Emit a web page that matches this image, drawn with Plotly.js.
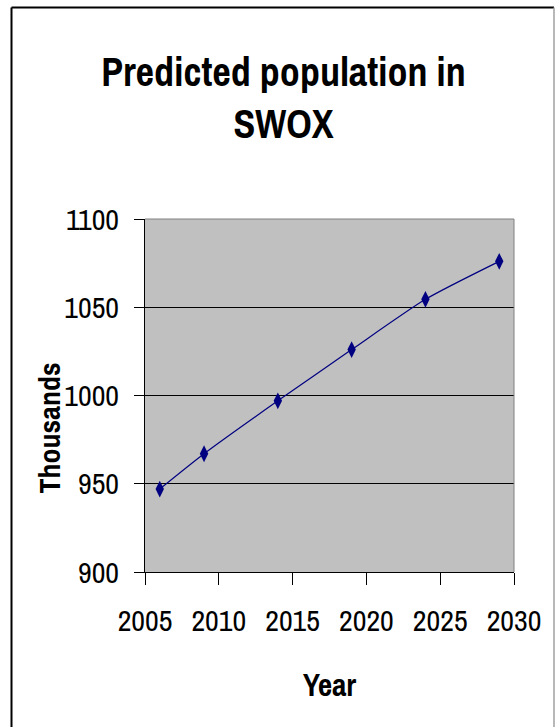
<!DOCTYPE html>
<html>
<head>
<meta charset="utf-8">
<script src="https://cdn.plot.ly/plotly-3.0.1.min.js"></script>
<style>
  html, body { margin: 0; padding: 0; background: #ffffff; overflow: hidden; }
  #chart { width: 555px; height: 727px; }
</style>
</head>
<body>
<div id="chart"></div>
<script>
// Data
var years = [2006, 2009, 2014, 2019, 2024, 2029];
var population = [947, 967, 997, 1026, 1054.5, 1076];
var xTickVals = [2005, 2010, 2015, 2020, 2025, 2030];
var yTickVals = [900, 950, 1000, 1050, 1100];

var titleText = 'Predicted population in<br>SWOX';
var xTitle = 'Year';
var yTitle = 'Thousands';

var W = 555, H = 727;
var L = 145, R = 514, T = 219, B = 572;
function px(x) { return (x - L) / (R - L); }
function py(y) { return (B - y) / (B - T); }

var FONT = '"Archivo Narrow", "Roboto Condensed", "Liberation Sans", Arial, sans-serif';

var trace = {
  x: years,
  y: population,
  type: 'scatter',
  mode: 'lines+markers',
  line: { color: '#000080', width: 1.2, shape: 'spline', smoothing: 0.6 },
  marker: { symbol: 'diamond-tall', size: 12, color: '#000080' },
  hoverinfo: 'x+y'
};

var layout = {
  width: W,
  height: H,
  margin: { l: L, r: W - R, t: T, b: H - B, pad: 0 },
  paper_bgcolor: '#ffffff',
  plot_bgcolor: '#c0c0c0',
  showlegend: false,
  font: { family: FONT, color: '#000000', size: 30 },
  title: {
    text: titleText,
    font: { family: FONT, size: 40, color: '#000000', weight: 'bold' },
    x: px(283.5), xref: 'paper', xanchor: 'center',
    y: 1 - 86 / H, yref: 'container', yanchor: 'middle'
  },
  xaxis: {
    range: [2005, 2030],
    tickvals: xTickVals,
    ticktext: xTickVals.map(String),
    ticks: 'outside',
    ticklen: 12,
    tickcolor: '#000000',
    tickwidth: 1,
    showline: true,
    linecolor: '#000000',
    linewidth: 1,
    showgrid: false,
    zeroline: false,
    ticklabelstandoff: 10,
    tickfont: { family: FONT, size: 30, color: '#000000' },
    fixedrange: true
  },
  yaxis: {
    range: [900, 1100],
    tickvals: yTickVals,
    ticktext: yTickVals.map(String),
    ticks: 'outside',
    ticklen: 10,
    tickcolor: '#000000',
    tickwidth: 1,
    showline: true,
    linecolor: '#000000',
    linewidth: 1,
    showgrid: true,
    gridcolor: '#000000',
    gridwidth: 1,
    zeroline: false,
    ticklabelstandoff: 9,
    tickfont: { family: FONT, size: 30, color: '#000000' },
    fixedrange: true
  },
  annotations: [
    {
      text: '<b>' + xTitle + '</b>',
      xref: 'paper', yref: 'paper',
      x: px(329.5), y: py(685),
      xanchor: 'center', yanchor: 'middle',
      showarrow: false,
      font: { family: FONT, size: 31, color: '#000000' }
    },
    {
      text: '<b>' + yTitle + '</b>',
      xref: 'paper', yref: 'paper',
      x: px(48.5), y: py(428),
      xanchor: 'center', yanchor: 'middle',
      textangle: -90,
      showarrow: false,
      font: { family: FONT, size: 30, color: '#000000' }
    }
  ],
  shapes: [
    { type: 'line', xref: 'paper', yref: 'paper', x0: 0, x1: 1, y0: 1, y1: 1,
      line: { color: '#808080', width: 1 }, layer: 'above' },
    { type: 'line', xref: 'paper', yref: 'paper', x0: 1, x1: 1, y0: 0, y1: 1,
      line: { color: '#808080', width: 1 }, layer: 'above' },
    { type: 'line', xref: 'paper', yref: 'paper', x0: px(11.5), x1: px(11.5), y0: py(7.5), y1: py(740),
      line: { color: '#000000', width: 2 } },
    { type: 'line', xref: 'paper', yref: 'paper', x0: px(11.5), x1: px(554), y0: py(7.5), y1: py(7.5),
      line: { color: '#000000', width: 2 } },
    { type: 'line', xref: 'paper', yref: 'paper', x0: px(554), x1: px(554), y0: py(7.5), y1: py(740),
      line: { color: '#a0a0a0', width: 1.5 } }
  ]
};

Plotly.newPlot('chart', [trace], layout, { displayModeBar: false, responsive: false });
</script>
</body>
</html>
